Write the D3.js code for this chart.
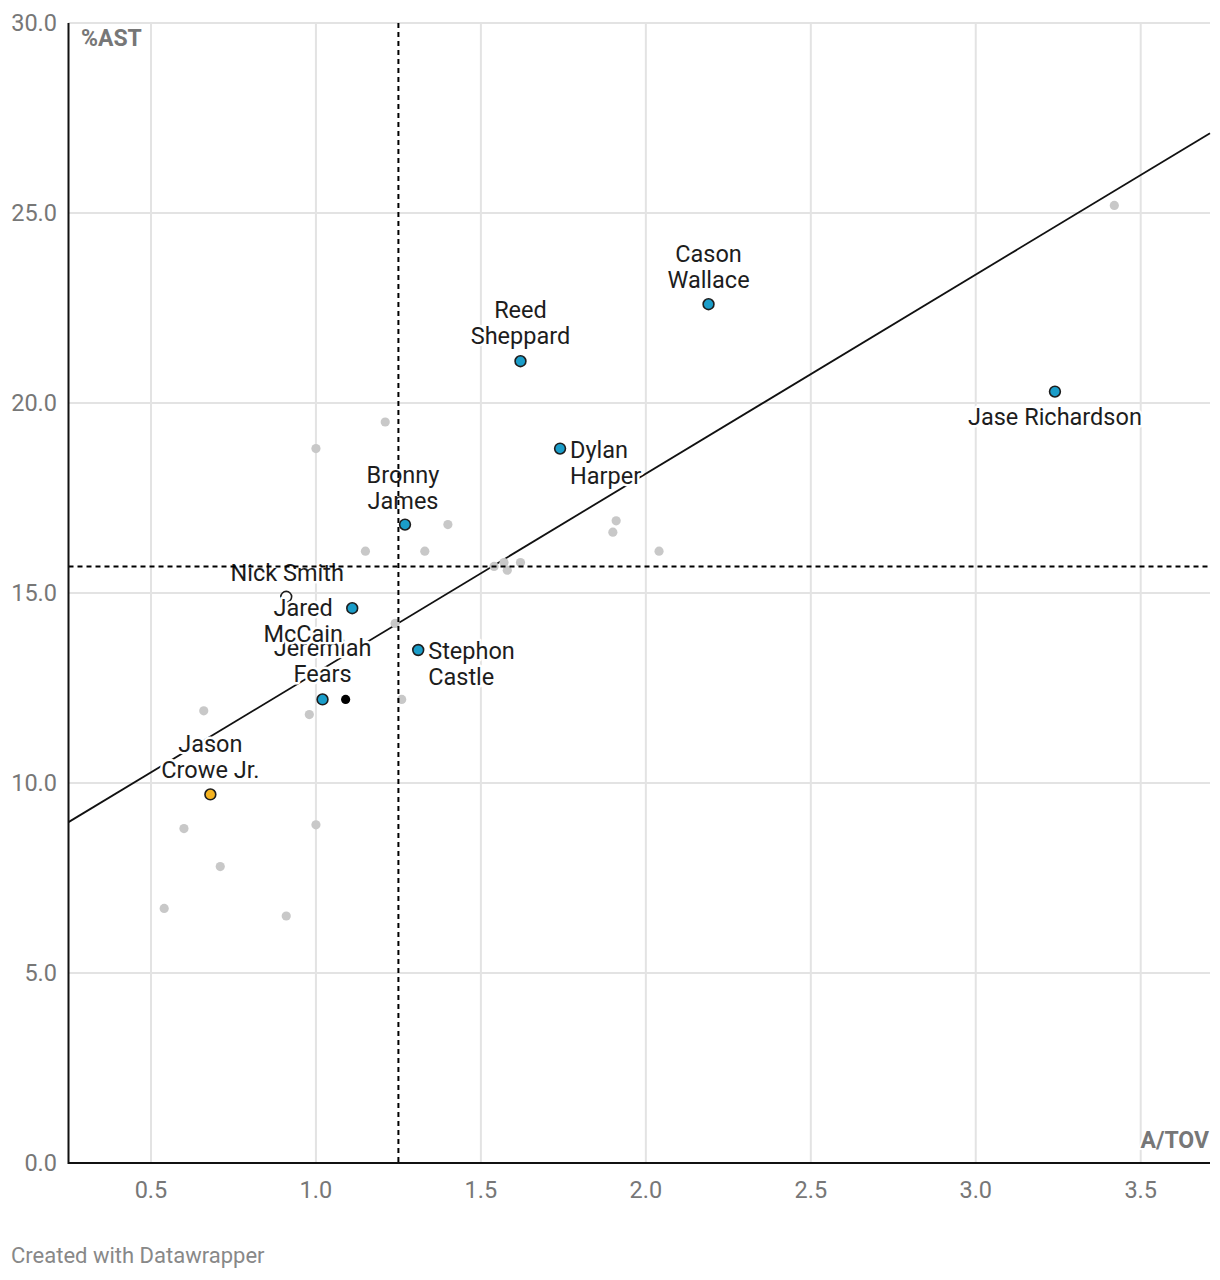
<!DOCTYPE html>
<html>
<head>
<meta charset="utf-8">
<script src="https://cdn.jsdelivr.net/npm/d3@7"></script>
<style>
  body { margin: 0; background: #fff; font-family: Roboto, "Noto Sans", sans-serif; }
  svg { display: block; }
</style>
</head>
<body>
<svg id="chart" width="1220" height="1280"></svg>
<script>
// highlighted players: name, A/TOV, %AST, group
const playerNames = ["Jase Richardson", "Cason Wallace", "Reed Sheppard", "Dylan Harper", "Bronny James",
    "Nick Smith", "Jared McCain", "Stephon Castle", "Jeremiah Fears", "Jason Crowe Jr."];
const playerAtov = [3.24, 2.19, 1.62, 1.74, 1.27, 0.91, 1.11, 1.31, 1.02, 0.68];
const playerAst = [20.3, 22.6, 21.1, 18.8, 16.8, 14.9, 14.6, 13.5, 12.2, 9.7];
const playerGroup = ["blue", "blue", "blue", "blue", "blue", "white", "blue", "blue", "blue", "orange"];

// other players (unlabelled)
const otherAtov = [3.42, 1.21, 1.0, 1.4, 1.15, 1.33, 1.91, 1.9, 2.04, 1.54, 1.57, 1.58, 1.62,
    1.24, 1.26, 0.66, 0.98, 0.6, 1.0, 0.71, 0.54, 0.91];
const otherAst = [25.2, 19.5, 18.8, 16.8, 16.1, 16.1, 16.9, 16.6, 16.1, 15.7, 15.8, 15.6, 15.8,
    14.2, 12.2, 11.9, 11.8, 8.8, 8.9, 7.8, 6.7, 6.5];

// single black marker
const markAtov = [1.09];
const markAst = [12.2];

// reference lines and trend line
const avgAtov = 1.25;
const avgAst = 15.7;
const trendAtov = [0.25, 3.71];
const trendAst = [8.97, 27.1];

const xTicks = [0.5, 1.0, 1.5, 2.0, 2.5, 3.0, 3.5];
const yTicks = [0, 5, 10, 15, 20, 25, 30];

const groupFill = { blue: "#1a9dc9", white: "#ffffff", orange: "#f5b320" };

// label placement per player: dx, dy of first baseline, anchor
const labelPlace = {
    "Jase Richardson": { dx: 0, dy: 33, anchor: "middle" },
    "Cason Wallace": { dx: 0, dy: -42, anchor: "middle" },
    "Reed Sheppard": { dx: 0, dy: -43, anchor: "middle" },
    "Dylan Harper": { dx: 10, dy: 9, anchor: "start" },
    "Bronny James": { dx: -2, dy: -42, anchor: "middle" },
    "Nick Smith": { dx: 1, dy: -16, anchor: "middle" },
    "Jeremiah Fears": { dx: 0, dy: -43, anchor: "middle" },
    "Jared McCain": { dx: -49, dy: 8, anchor: "middle" },
    "Stephon Castle": { dx: 10, dy: 9, anchor: "start" },
    "Jason Crowe Jr.": { dx: 0, dy: -42, anchor: "middle" }
};
const labelLines = {
    "Jase Richardson": ["Jase Richardson"],
    "Nick Smith": ["Nick Smith"]
};

const svg = d3.select("#chart");
const plotLeft = 68.5, plotRight = 1210, plotTop = 23, plotBottom = 1163;

const x = d3.scaleLinear().domain([0.25, 3.71]).range([plotLeft, plotRight]);
const y = d3.scaleLinear().domain([0, 30]).range([plotBottom, plotTop]);

// gridlines
const grid = svg.append("g");
grid.selectAll(".vgrid")
    .data(xTicks)
    .enter()
    .append("line")
    .attr("x1", d => x(d)).attr("x2", d => x(d))
    .attr("y1", plotTop).attr("y2", plotBottom)
    .attr("stroke", "#e3e3e3")
    .attr("stroke-width", 2);
grid.selectAll(".hgrid")
    .data(yTicks.filter(d => d > 0))
    .enter()
    .append("line")
    .attr("x1", plotLeft).attr("x2", plotRight)
    .attr("y1", d => y(d)).attr("y2", d => y(d))
    .attr("stroke", "#e3e3e3")
    .attr("stroke-width", 2);

// tick labels
svg.append("g")
    .selectAll("text")
    .data(yTicks)
    .enter()
    .append("text")
    .attr("x", 57)
    .attr("y", d => y(d) + 8)
    .attr("text-anchor", "end")
    .attr("font-size", 23.5)
    .attr("fill", "#777")
    .text(d => d3.format(".1f")(d));
svg.append("g")
    .selectAll("text")
    .data(xTicks)
    .enter()
    .append("text")
    .attr("x", d => x(d))
    .attr("y", 1198)
    .attr("text-anchor", "middle")
    .attr("font-size", 23.5)
    .attr("fill", "#777")
    .text(d => d3.format(".1f")(d));

// trend line
svg.append("line")
    .attr("x1", x(trendAtov[0])).attr("y1", y(trendAst[0]))
    .attr("x2", x(trendAtov[1])).attr("y2", y(trendAst[1]))
    .attr("stroke", "#111")
    .attr("stroke-width", 1.8);

// other players
svg.append("g")
    .selectAll("circle")
    .data(otherAtov.map((v, i) => ({ atov: v, ast: otherAst[i] })))
    .enter()
    .append("circle")
    .attr("cx", d => x(d.atov))
    .attr("cy", d => y(d.ast))
    .attr("r", 4.6)
    .attr("fill", "#c8c8c8");

svg.append("g")
    .selectAll("circle")
    .data(markAtov.map((v, i) => ({ atov: v, ast: markAst[i] })))
    .enter()
    .append("circle")
    .attr("cx", d => x(d.atov))
    .attr("cy", d => y(d.ast))
    .attr("r", 4.6)
    .attr("fill", "#000");

const players = playerNames.map((n, i) => ({
    name: n, atov: playerAtov[i], ast: playerAst[i], group: playerGroup[i]
}));

svg.append("g")
    .selectAll("circle")
    .data(players)
    .enter()
    .append("circle")
    .attr("cx", d => x(d.atov))
    .attr("cy", d => y(d.ast))
    .attr("r", 5.4)
    .attr("fill", d => groupFill[d.group])
    .attr("stroke", "#1d1d1d")
    .attr("stroke-width", 1.6);

// labels (drawn in the order of labelPlace so McCain sits over Fears)
const labelG = svg.append("g");
Object.keys(labelPlace).forEach(name => {
    const p = players.find(d => d.name === name);
    const pl = labelPlace[name];
    const lines = labelLines[name] || name.split(/ (.+)/).filter(s => s);
    const t = labelG.append("text")
        .attr("x", x(p.atov) + pl.dx)
        .attr("y", y(p.ast) + pl.dy)
        .attr("text-anchor", pl.anchor)
        .attr("font-size", 23.5)
        .attr("fill", "#1d1d1d")
        .attr("stroke", "#fff")
        .attr("stroke-width", 5)
        .attr("stroke-linejoin", "round")
        .attr("paint-order", "stroke");
    lines.forEach((ln, i) => {
        t.append("tspan")
            .attr("x", x(p.atov) + pl.dx)
            .attr("dy", i === 0 ? 0 : 26)
            .text(ln);
    });
});

// average reference lines
svg.append("line")
    .attr("x1", x(avgAtov)).attr("x2", x(avgAtov))
    .attr("y1", plotTop).attr("y2", plotBottom)
    .attr("stroke", "#000")
    .attr("stroke-width", 2)
    .attr("stroke-dasharray", "5,4");
svg.append("line")
    .attr("x1", plotLeft).attr("x2", plotRight)
    .attr("y1", y(avgAst)).attr("y2", y(avgAst))
    .attr("stroke", "#000")
    .attr("stroke-width", 2)
    .attr("stroke-dasharray", "5,4");

// axis lines
svg.append("line")
    .attr("x1", plotLeft).attr("x2", plotLeft)
    .attr("y1", plotTop).attr("y2", plotBottom + 1)
    .attr("stroke", "#111").attr("stroke-width", 2);
svg.append("line")
    .attr("x1", plotLeft).attr("x2", plotRight)
    .attr("y1", plotBottom).attr("y2", plotBottom)
    .attr("stroke", "#111").attr("stroke-width", 2);

// axis titles
svg.append("text")
    .attr("x", 81).attr("y", 46)
    .attr("font-size", 23).attr("font-weight", "bold")
    .attr("fill", "#777")
    .attr("stroke", "#fff").attr("stroke-width", 4).attr("paint-order", "stroke")
    .text("%AST");
svg.append("text")
    .attr("x", 1209).attr("y", 1148)
    .attr("text-anchor", "end")
    .attr("font-size", 23).attr("font-weight", "bold")
    .attr("fill", "#777")
    .attr("stroke", "#fff").attr("stroke-width", 4).attr("paint-order", "stroke")
    .text("A/TOV");

// footer
svg.append("text")
    .attr("x", 11).attr("y", 1263)
    .attr("font-size", 22)
    .attr("fill", "#888")
    .text("Created with Datawrapper");
</script>
</body>
</html>
